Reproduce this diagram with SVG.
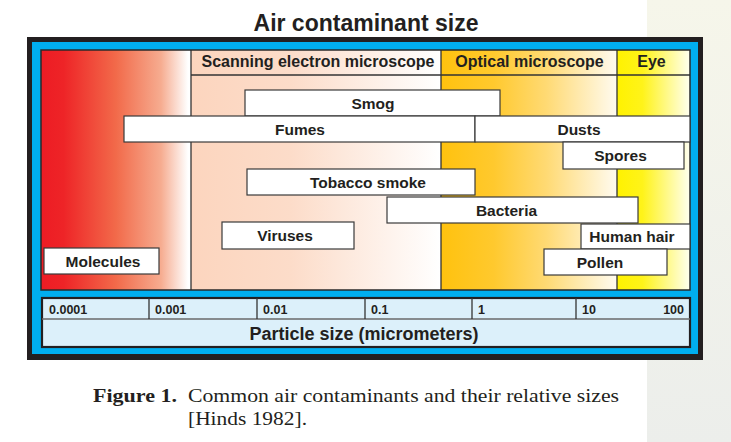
<svg xmlns="http://www.w3.org/2000/svg" width="731" height="442" viewBox="0 0 731 442">
<defs>
<linearGradient id="gStrip" x1="0" y1="0" x2="0" y2="1">
<stop offset="0" stop-color="#F6F6EA"/>
<stop offset="1" stop-color="#ECEEEB"/>
</linearGradient>
<linearGradient id="gRed" x1="0" y1="0" x2="1" y2="0">
<stop offset="0" stop-color="#ED1C24"/>
<stop offset="0.15" stop-color="#EE2427"/>
<stop offset="0.5" stop-color="#F26A4A"/>
<stop offset="0.8" stop-color="#F6AC90"/>
<stop offset="0.98" stop-color="#FFFFFF"/>
<stop offset="1" stop-color="#FFFFFF"/>
</linearGradient>
<linearGradient id="gSem" x1="0" y1="0" x2="1" y2="0">
<stop offset="0" stop-color="#FCD5BE"/>
<stop offset="0.4" stop-color="#FCDCC9"/>
<stop offset="1" stop-color="#FFFFFF"/>
</linearGradient>
<linearGradient id="gOpt" x1="0" y1="0" x2="1" y2="0">
<stop offset="0" stop-color="#FFC20E"/>
<stop offset="0.3" stop-color="#FFC92E"/>
<stop offset="0.6" stop-color="#FFDA74"/>
<stop offset="1" stop-color="#FFFBF0"/>
</linearGradient>
<linearGradient id="gEye" x1="0" y1="0" x2="1" y2="0">
<stop offset="0" stop-color="#FFF200"/>
<stop offset="0.35" stop-color="#FFF31A"/>
<stop offset="1" stop-color="#FFFFF0"/>
</linearGradient>
<style>
.lbl{font-family:"Liberation Sans",Arial,sans-serif;font-weight:bold;font-size:15.5px;fill:#231F20;text-anchor:middle}
.hdr{font-family:"Liberation Sans",Arial,sans-serif;font-weight:bold;font-size:16px;fill:#231F20;text-anchor:middle}
.num{font-family:"Liberation Sans",Arial,sans-serif;font-weight:bold;font-size:12.5px;fill:#231F20}
.box{fill:#FFFFFF;stroke:#3A3A3A;stroke-width:1.2}
.ln{stroke:#333333;stroke-width:1.3;fill:none}
.cap{font-family:"Liberation Serif","Times New Roman",serif;font-size:18px;fill:#231F20}
</style>
</defs>

<rect x="0" y="0" width="731" height="442" fill="#FFFFFF"/>
<rect x="647" y="0" width="84" height="442" fill="url(#gStrip)"/>

<text x="366" y="31" font-family="Liberation Sans, Arial, sans-serif" font-weight="bold" font-size="23" fill="#231F20" text-anchor="middle">Air contaminant size</text>

<g id="frame">
<rect x="27" y="37" width="676" height="323" fill="#231F20"/>
<rect x="32" y="42" width="666" height="312" fill="#00AEEF"/>
</g>

<g id="zones">
<rect x="41" y="50" width="150" height="240" fill="url(#gRed)"/>
<rect x="191" y="50" width="250" height="240" fill="url(#gSem)"/>
<rect x="441" y="50" width="176" height="240" fill="url(#gOpt)"/>
<rect x="617" y="50" width="73" height="240" fill="url(#gEye)"/>
<line class="ln" x1="191" y1="75" x2="690" y2="75"/>
<line class="ln" x1="191" y1="50" x2="191" y2="290"/>
<line class="ln" x1="441" y1="50" x2="441" y2="290"/>
<line class="ln" x1="617" y1="50" x2="617" y2="290"/>
<rect x="41" y="50" width="649" height="240" fill="none" stroke="#2A2A2A" stroke-width="1.5"/>
</g>

<g id="header-sem"><text class="hdr" x="318" y="67">Scanning electron microscope</text></g>
<g id="header-optical"><text class="hdr" x="529.5" y="67">Optical microscope</text></g>
<g id="header-eye"><text class="hdr" x="651.5" y="67">Eye</text></g>

<g id="smog"><rect class="box" x="245" y="90" width="255" height="26"/><text class="lbl" x="373" y="108.5">Smog</text></g>
<g id="fumes"><rect class="box" x="124" y="116" width="351" height="26"/><text class="lbl" x="300" y="134.5">Fumes</text></g>
<g id="dusts"><rect class="box" x="475" y="116" width="215" height="26"/><text class="lbl" x="579" y="134.5">Dusts</text></g>
<g id="spores"><rect class="box" x="563" y="142" width="121" height="27"/><text class="lbl" x="620.5" y="161">Spores</text></g>
<g id="tobacco-smoke"><rect class="box" x="247" y="169" width="228" height="26"/><text class="lbl" x="368" y="187.5">Tobacco smoke</text></g>
<g id="bacteria"><rect class="box" x="387" y="197" width="251" height="26"/><text class="lbl" x="506.5" y="215.5">Bacteria</text></g>
<g id="viruses"><rect class="box" x="222" y="222" width="132" height="27"/><text class="lbl" x="285" y="241">Viruses</text></g>
<g id="human-hair"><rect class="box" x="581" y="224" width="109" height="25"/><text class="lbl" x="632" y="242">Human hair</text></g>
<g id="pollen"><rect class="box" x="544" y="249" width="123" height="26"/><text class="lbl" x="600" y="267.5">Pollen</text></g>
<g id="molecules"><rect class="box" x="44" y="248" width="115" height="26"/><text class="lbl" x="103" y="266.5">Molecules</text></g>

<g id="scale">
<rect x="42" y="298" width="648" height="49" fill="#DCF0FA" stroke="#231F20" stroke-width="2.2"/>
<line x1="42" y1="319" x2="690" y2="319" stroke="#6A6A6A" stroke-width="1.3"/>
<line class="ln" x1="149" y1="298" x2="149" y2="319"/>
<line class="ln" x1="257" y1="298" x2="257" y2="319"/>
<line class="ln" x1="365" y1="298" x2="365" y2="319"/>
<line class="ln" x1="472" y1="298" x2="472" y2="319"/>
<line class="ln" x1="576" y1="298" x2="576" y2="319"/>
<text class="num" x="49" y="314">0.0001</text>
<text class="num" x="155" y="314">0.001</text>
<text class="num" x="263" y="314">0.01</text>
<text class="num" x="371" y="314">0.1</text>
<text class="num" x="478" y="314">1</text>
<text class="num" x="582" y="314">10</text>
<text class="num" x="684" y="314" text-anchor="end">100</text>
<text x="364" y="340" font-family="Liberation Sans, Arial, sans-serif" font-weight="bold" font-size="18" fill="#231F20" text-anchor="middle">Particle size (micrometers)</text>
</g>

<g id="caption">
<text class="cap" x="93" y="402" font-weight="bold" textLength="84" lengthAdjust="spacingAndGlyphs">Figure 1.</text>
<text class="cap" x="188" y="402" textLength="431" lengthAdjust="spacingAndGlyphs">Common air contaminants and their relative sizes</text>
<text class="cap" x="188" y="425" textLength="119" lengthAdjust="spacingAndGlyphs">[Hinds 1982].</text>
</g>
</svg>
